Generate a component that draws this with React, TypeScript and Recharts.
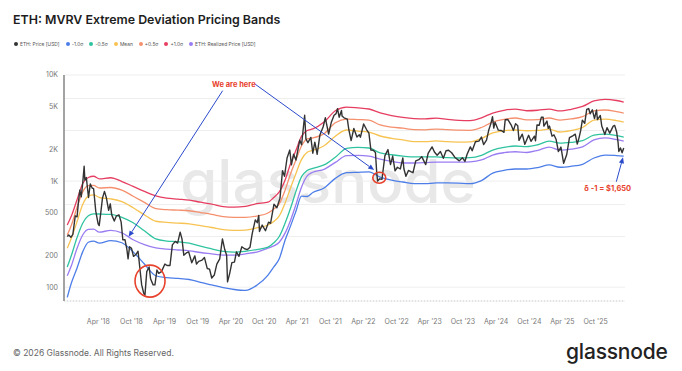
import React from 'react';
import { LineChart, Line, XAxis, YAxis, CartesianGrid, ReferenceLine, ReferenceDot } from 'recharts';

// ---------- DATA ----------
const bandDates = ['2017-10-12','2017-11-04','2017-12-04','2018-01-05','2018-02-05','2018-03-06','2018-04-07','2018-06-08','2018-08-09','2018-10-10','2018-12-11','2019-02-12','2019-04-13','2019-06-14','2019-08-15','2019-10-16','2019-12-17','2020-02-18','2020-04-19','2020-06-20','2020-08-21','2020-10-22','2020-11-23','2020-12-23','2021-01-24','2021-02-24','2021-03-25','2021-04-25','2021-05-26','2021-06-26','2021-08-27','2021-10-28','2021-12-29','2022-03-01','2022-05-01','2022-07-02','2022-09-03','2022-11-04','2023-01-05','2023-03-06','2023-05-07','2023-07-08','2023-09-09','2023-11-10','2024-01-11','2024-03-13','2024-05-14','2024-07-15','2024-09-16','2024-11-17','2025-01-18','2025-03-19','2025-05-20','2025-07-21','2025-09-22','2025-11-23','2026-01-24','2026-03-05'];

const plus1Sigma = [385,470,660,950,1080,1110,1050,1075,990,890,800,725,690,675,660,632,605,575,568,578,612,632,700,790,1020,1470,1950,2650,3000,3100,3600,4600,4980,4900,4780,4400,4150,3980,3880,3860,3920,3820,3740,3720,3950,4380,4650,4760,4600,4650,4770,4580,4750,5050,5690,5900,5750,5560];
const plusHalfSigma = [310,385,560,790,905,910,860,870,820,720,630,550,537,532,525,505,485,462,455,455,468,500,545,610,820,1180,1580,2150,2500,2550,2800,3550,3840,3800,3760,3380,3230,3150,3050,3040,3090,3050,3020,3010,3200,3600,3820,3930,3780,3800,3930,3760,3850,4050,4580,4680,4520,4380];
const meanBand = [233,290,410,600,720,740,700,680,640,560,480,418,408,402,395,380,365,348,343,345,362,385,415,470,620,870,1180,1600,1870,1950,2150,2650,3030,2960,2900,2660,2530,2440,2350,2350,2390,2350,2330,2340,2520,2840,2980,3030,2980,3000,3090,2900,3000,3200,3760,3840,3720,3600];
const minusHalfSigma = [155,200,290,400,470,490,489,485,455,405,340,285,272,268,260,243,230,217,214,218,226,238,262,300,400,560,800,1100,1260,1320,1420,1680,2030,2080,2050,1840,1770,1720,1690,1690,1690,1660,1650,1660,1750,1960,2080,2140,2110,2200,2380,2280,2320,2400,2710,2770,2680,2600];
const realizedPrice = [128,160,230,310,350,352,330,343,325,280,252,234,228,224,220,212,206,200,200,206,214,233,245,265,323,430,600,880,1120,1210,1290,1500,1740,1750,1720,1610,1530,1480,1480,1490,1510,1510,1510,1520,1580,1760,1850,1890,1860,1950,2090,1960,2000,2100,2440,2550,2460,2380];
const minus1Sigma = [80,110,150,215,265,272,260,275,262,215,165,128,123,121,118,111,105,99,95,93,104,130,155,185,277,380,520,720,715,780,860,1060,1200,1210,1220,1090,1020,980,945,945,960,960,955,945,1010,1190,1260,1300,1300,1340,1420,1350,1380,1440,1650,1760,1740,1720];

const priceDates = [
  '2017-10-12','2017-10-20','2017-11-01','2017-11-12','2017-11-25','2017-12-05','2017-12-12','2017-12-20','2017-12-28',
  '2018-01-05','2018-01-13','2018-01-17','2018-01-25','2018-02-06','2018-02-16','2018-02-26','2018-03-06','2018-03-18','2018-03-31','2018-04-06','2018-04-15','2018-04-24','2018-05-05','2018-05-15','2018-05-28','2018-06-06','2018-06-14','2018-06-28','2018-07-10','2018-07-24','2018-08-05','2018-08-14','2018-08-26','2018-09-05','2018-09-12','2018-09-20','2018-10-01','2018-10-12','2018-10-25','2018-11-06','2018-11-20','2018-11-26','2018-12-07','2018-12-14','2018-12-24',
  '2019-01-06','2019-01-14','2019-01-28','2019-02-07','2019-02-18','2019-02-28','2019-03-15','2019-04-03','2019-04-15','2019-05-01','2019-05-14','2019-05-30','2019-06-12','2019-06-26','2019-07-06','2019-07-16','2019-07-30','2019-08-12','2019-08-29','2019-09-15','2019-09-24','2019-10-06','2019-10-25','2019-11-07','2019-11-22','2019-12-05','2019-12-17','2019-12-31',
  '2020-01-14','2020-01-30','2020-02-14','2020-02-27','2020-03-08','2020-03-13','2020-03-25','2020-04-06','2020-04-20','2020-05-01','2020-05-15','2020-05-31','2020-06-15','2020-07-01','2020-07-15','2020-07-27','2020-08-13','2020-08-24','2020-09-01','2020-09-05','2020-09-20','2020-10-08','2020-10-25','2020-11-05','2020-11-24','2020-12-10','2020-12-27',
  '2021-01-10','2021-01-21','2021-02-04','2021-02-19','2021-02-28','2021-03-12','2021-03-25','2021-04-15','2021-04-25','2021-05-12','2021-05-19','2021-05-30','2021-06-15','2021-06-26','2021-07-07','2021-07-20','2021-08-04','2021-08-22','2021-09-03','2021-09-21','2021-10-06','2021-10-21','2021-11-01','2021-11-09','2021-11-18','2021-12-01','2021-12-04','2021-12-15',
  '2022-01-02','2022-01-10','2022-01-23','2022-02-07','2022-02-24','2022-03-09','2022-03-15','2022-04-02','2022-04-18','2022-05-01','2022-05-12','2022-05-25','2022-06-06','2022-06-13','2022-06-18','2022-06-30','2022-07-12','2022-07-28','2022-08-14','2022-08-28','2022-09-09','2022-09-22','2022-10-05','2022-10-21','2022-11-04','2022-11-10','2022-11-21','2022-12-05','2022-12-20','2022-12-30',
  '2023-01-14','2023-01-31','2023-02-16','2023-03-10','2023-03-23','2023-04-14','2023-04-27','2023-05-12','2023-05-30','2023-06-15','2023-06-30','2023-07-14','2023-07-31','2023-08-17','2023-09-11','2023-09-28','2023-10-12','2023-10-24','2023-11-11','2023-11-21','2023-12-09','2023-12-28',
  '2024-01-11','2024-01-23','2024-02-08','2024-02-20','2024-03-03','2024-03-12','2024-03-19','2024-03-26','2024-04-13','2024-04-30','2024-05-14','2024-05-21','2024-06-04','2024-06-24','2024-07-05','2024-07-17','2024-07-29','2024-08-05','2024-08-23','2024-09-06','2024-09-27','2024-10-10','2024-10-29','2024-11-04','2024-11-12','2024-11-24','2024-12-06','2024-12-16','2024-12-20',
  '2025-01-06','2025-01-13','2025-01-20','2025-02-03','2025-02-14','2025-02-25','2025-03-10','2025-03-24','2025-04-08','2025-04-25','2025-05-10','2025-05-28','2025-06-11','2025-06-22','2025-07-02','2025-07-11','2025-07-20','2025-08-02','2025-08-13','2025-08-24','2025-09-01','2025-09-13','2025-09-25','2025-10-06','2025-10-11','2025-10-27','2025-11-04','2025-11-21','2025-12-03','2025-12-18',
  '2026-01-06','2026-01-14','2026-01-25','2026-02-02','2026-02-06','2026-02-15','2026-02-24','2026-03-05'
];
const priceUsd = [
  300,310,295,315,470,460,620,820,710,
  950,1380,1020,1080,700,940,860,850,520,395,380,510,690,800,700,530,610,480,420,470,480,410,280,280,230,185,240,232,195,203,218,130,105,88,84,140,
  155,120,105,105,145,135,140,165,160,160,250,270,260,330,285,200,210,215,170,197,165,175,180,190,150,148,122,130,
  165,185,285,225,200,112,135,170,172,215,195,240,230,226,238,320,430,405,475,335,385,340,410,400,605,560,690,
  1250,1110,1650,1960,1420,1790,1580,2430,2200,4170,2500,2300,2580,1830,2330,1790,2720,3250,3950,2770,3590,4170,4320,4810,4000,4630,4100,3950,
  3830,3080,2410,3130,2600,2730,2590,3450,3060,2830,1960,1950,1860,1200,1000,1050,1040,1730,1980,1430,1720,1250,1350,1300,1650,1300,1110,1260,1220,1200,
  1550,1590,1700,1430,1820,2100,1880,1750,1900,1640,1930,1950,1850,1680,1550,1660,1530,1790,2100,1930,2350,2380,
  2600,2210,2430,3010,3480,4050,3160,3590,3020,3000,2880,3790,3810,3350,2990,3480,3320,2420,2770,2220,2700,2370,2650,2400,3380,3360,3990,3990,3300,
  3680,3140,3300,2650,2720,2480,1900,2090,1470,1780,2570,2670,2770,2230,2570,3000,3750,3500,4740,4830,4300,4700,3880,4690,3800,4150,3300,2750,3190,2830,
  3300,3350,2900,2300,1900,2050,1850,2050
];

const xTickDates = ['2018-04-01','2018-10-01','2019-04-01','2019-10-01','2020-04-01','2020-10-01','2021-04-01','2021-10-01','2022-04-01','2022-10-01','2023-04-01','2023-10-01','2024-04-01','2024-10-01','2025-04-01','2025-10-01'];
const yTicks = [100, 200, 500, 1000, 2000, 5000, 10000];
const yTickLabels = ['100', '200', '500', '1K', '2K', '5K', '10K'];
const yGridValues = [80, 90, 100, 200, 300, 400, 500, 600, 700, 800, 900, 1000, 2000, 3000, 4000, 5000, 6000, 7000, 8000, 9000, 10000];

const legendLabels = ['ETH: Price [USD]', '-1.0σ', '-0.5σ', 'Mean', '+0.5σ', '+1.0σ', 'ETH: Realized Price [USD]'];
const legendColors = ['#333333', '#4d7ee8', '#2fc3a0', '#f7c352', '#f5906e', '#e63e61', '#9a7cf2'];

const TITLE = 'ETH: MVRV Extreme Deviation Pricing Bands';
const ANNOT_HERE = 'We are here';
const ANNOT_SIGMA = 'δ -1 = $1,650';

// ---------- helpers ----------
const ts = (s: string) => Date.parse(s + 'T00:00:00Z');
const MONTHS = ['Jan','Feb','Mar','Apr','May','Jun','Jul','Aug','Sep','Oct','Nov','Dec'];
const fmtX = (v: number) => {
  const d = new Date(v);
  return `${MONTHS[d.getUTCMonth()]} '${String(d.getUTCFullYear()).slice(2)}`;
};
const fmtY = (v: number) => {
  const i = yTicks.indexOf(v);
  return i >= 0 ? yTickLabels[i] : String(v);
};

const bandData = bandDates.map((d, i) => ({
  t: ts(d),
  m1: minus1Sigma[i],
  mh: minusHalfSigma[i],
  mean: meanBand[i],
  ph: plusHalfSigma[i],
  p1: plus1Sigma[i],
  rp: realizedPrice[i],
}));
const priceData = priceDates.map((d, i) => ({ t: ts(d), price: priceUsd[i] }));

const X_DOMAIN: [number, number] = [ts('2017-09-24'), ts('2026-03-12')];
const Y_DOMAIN: [number, number] = [74, 10000];

const ARROW = '#2b4acb';
const RED = '#e8412c';

const ArrowShape = (props: any) => {
  const { x1, y1, x2, y2 } = props;
  if ([x1, y1, x2, y2].some((v) => typeof v !== 'number' || isNaN(v))) return <g />;
  const a = Math.atan2(y2 - y1, x2 - x1);
  const L = 6, W = 2.6;
  const bx = x2 - L * Math.cos(a), by = y2 - L * Math.sin(a);
  const p1x = bx + W * Math.sin(a), p1y = by - W * Math.cos(a);
  const p2x = bx - W * Math.sin(a), p2y = by + W * Math.cos(a);
  return (
    <g>
      <line x1={x1} y1={y1} x2={bx} y2={by} stroke={ARROW} strokeWidth={1} />
      <polygon points={`${x2},${y2} ${p1x},${p1y} ${p2x},${p2y}`} fill={ARROW} />
    </g>
  );
};

const ellipse = (rx: number, ry: number) => (p: any) => (
  <ellipse cx={p.cx} cy={p.cy} rx={rx} ry={ry} fill="none" stroke={RED} strokeWidth={1.6} />
);
const textShape = (txt: string, size: number) => (p: any) => (
  <text x={p.cx} y={p.cy} dy="0.35em" textAnchor="middle" fill={RED} fontSize={size} fontWeight={700} fontFamily="Inter, 'Noto Sans', sans-serif">
    {txt}
  </text>
);

export default function App() {
  const font = "Inter, 'Noto Sans', sans-serif";
  return (
    <div style={{ position: 'absolute', left: 0, top: 0, width: 682, height: 371, background: '#fff', fontFamily: font, overflow: 'hidden' }}>
      {/* watermark */}
      <svg width={682} height={371} style={{ position: 'absolute', left: 0, top: 0 }}>
        <text x={328} y={203} textAnchor="middle" fontSize={60} fontWeight={500} fill="#e8e8e8" fontFamily={font}>glassnode</text>
      </svg>

      {/* title */}
      <div style={{ position: 'absolute', left: 13, top: 12, fontSize: 12.4, fontWeight: 600, color: '#1d1d1d', whiteSpace: 'nowrap', lineHeight: '16px' }}>
        {TITLE}
      </div>

      {/* legend */}
      <div style={{ position: 'absolute', left: 14, top: 40, display: 'flex', alignItems: 'center', gap: 6, fontSize: 4.9, color: '#555', whiteSpace: 'nowrap', lineHeight: '8px' }}>
        {legendLabels.map((l, i) => (
          <div key={l} style={{ display: 'flex', alignItems: 'center', gap: 2 }}>
            <span style={{ width: 4, height: 4, borderRadius: 2, background: legendColors[i], display: 'inline-block' }} />
            <span>{l}</span>
          </div>
        ))}
      </div>

      <div style={{ position: 'absolute', left: 0, top: 0 }}>
        <LineChart width={682} height={371} margin={{ top: 75, right: 57, left: 0, bottom: 40 }}>
          <YAxis yAxisId="grid" hide type="number" scale="log" domain={Y_DOMAIN} ticks={yGridValues} allowDataOverflow />
          <CartesianGrid yAxisId="grid" vertical={false} stroke="#eeeeee" strokeWidth={1} />
          <XAxis
            dataKey="t"
            type="number"
            domain={X_DOMAIN}
            ticks={xTickDates.map(ts)}
            tickFormatter={fmtX}
            allowDataOverflow
            height={30}
            tickLine={false}
            tickSize={6}
            tickMargin={12}
            axisLine={{ stroke: '#cfcfcf', strokeDasharray: '1 2' }}
            tick={{ fontSize: 7, fill: '#777', fontFamily: font }}
          />
          <YAxis
            type="number"
            scale="log"
            domain={Y_DOMAIN}
            ticks={yTicks}
            tickFormatter={fmtY}
            allowDataOverflow
            width={64}
            tickLine={false}
            tickSize={6}
            tickMargin={0}
            axisLine={{ stroke: '#a3a3a3', strokeWidth: 2 }}
            tick={{ fontSize: 7, fill: '#777', fontFamily: font }}
          />
          <Line data={bandData} dataKey="m1" type="monotone" stroke={legendColors[1]} strokeWidth={1.3} dot={false} isAnimationActive={false} />
          <Line data={bandData} dataKey="rp" type="monotone" stroke={legendColors[6]} strokeWidth={1.3} dot={false} isAnimationActive={false} />
          <Line data={bandData} dataKey="mh" type="monotone" stroke={legendColors[2]} strokeWidth={1.3} dot={false} isAnimationActive={false} />
          <Line data={bandData} dataKey="mean" type="monotone" stroke={legendColors[3]} strokeWidth={1.3} dot={false} isAnimationActive={false} />
          <Line data={bandData} dataKey="ph" type="monotone" stroke={legendColors[4]} strokeWidth={1.3} dot={false} isAnimationActive={false} />
          <Line data={bandData} dataKey="p1" type="monotone" stroke={legendColors[5]} strokeWidth={1.3} dot={false} isAnimationActive={false} />
          <Line data={priceData} dataKey="price" type="linear" stroke={legendColors[0]} strokeWidth={1.4} dot={false} isAnimationActive={false} strokeLinejoin="round" />

          <ReferenceLine segment={[{ x: ts('2020-02-15'), y: 7115 }, { x: ts('2018-09-15'), y: 298 }]} shape={ArrowShape} />
          <ReferenceLine segment={[{ x: ts('2020-08-11'), y: 8224 }, { x: ts('2022-05-30'), y: 1271 }]} shape={ArrowShape} />
          <ReferenceLine segment={[{ x: ts('2026-01-23'), y: 985 }, { x: ts('2026-03-01'), y: 1675 }]} shape={ArrowShape} />
          <ReferenceDot x={ts('2019-01-11')} y={114} shape={ellipse(15, 16)} />
          <ReferenceDot x={ts('2022-06-27')} y={1074} shape={ellipse(6.5, 5.5)} />
          <ReferenceDot x={ts('2020-04-17')} y={8224} shape={textShape(ANNOT_HERE, 7.5)} />
          <ReferenceDot x={ts('2025-12-07')} y={853} shape={textShape(ANNOT_SIGMA, 7.5)} />
        </LineChart>
      </div>

      {/* footer */}
      <div style={{ position: 'absolute', left: 13, top: 347, fontSize: 8.5, color: '#666', whiteSpace: 'nowrap', lineHeight: '12px' }}>
        © 2026 Glassnode. All Rights Reserved.
      </div>
      <div style={{ position: 'absolute', left: 566, top: 340, fontSize: 21, fontWeight: 500, color: '#222', whiteSpace: 'nowrap', lineHeight: '24px', letterSpacing: -0.2 }}>
        glassnode
      </div>
    </div>
  );
}
